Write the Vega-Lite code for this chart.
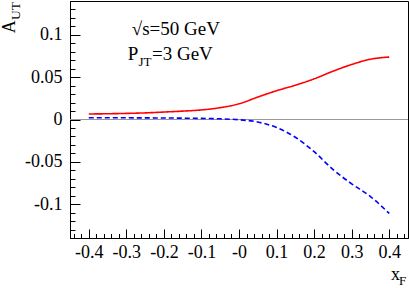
{
  "$schema": "https://vega.github.io/schema/vega-lite/v6.json",
  "width": 338,
  "height": 237,
  "autosize": "none",
  "padding": {"left": 70, "top": 1, "right": 1, "bottom": 50},
  "background": "white",
  "config": {
    "view": {"stroke": "black", "strokeWidth": 1},
    "font": "Liberation Serif",
    "axis": {"labelFont": "Liberation Serif"}
  },
  "datasets": {
    "curves": [
      {"xF": -0.4, "AUT": 0.0065, "series": "solid"},
      {"xF": -0.35, "AUT": 0.0068, "series": "solid"},
      {"xF": -0.3, "AUT": 0.0072, "series": "solid"},
      {"xF": -0.25, "AUT": 0.0078, "series": "solid"},
      {"xF": -0.2, "AUT": 0.0088, "series": "solid"},
      {"xF": -0.15, "AUT": 0.0099, "series": "solid"},
      {"xF": -0.1, "AUT": 0.0113, "series": "solid"},
      {"xF": -0.05, "AUT": 0.014, "series": "solid"},
      {"xF": 0, "AUT": 0.0185, "series": "solid"},
      {"xF": 0.05, "AUT": 0.0265, "series": "solid"},
      {"xF": 0.1, "AUT": 0.034, "series": "solid"},
      {"xF": 0.15, "AUT": 0.0405, "series": "solid"},
      {"xF": 0.2, "AUT": 0.048, "series": "solid"},
      {"xF": 0.25, "AUT": 0.057, "series": "solid"},
      {"xF": 0.3, "AUT": 0.065, "series": "solid"},
      {"xF": 0.35, "AUT": 0.0712, "series": "solid"},
      {"xF": 0.4, "AUT": 0.0738, "series": "solid"},
      {"xF": -0.4, "AUT": 0.002, "series": "dashed"},
      {"xF": -0.35, "AUT": 0.002, "series": "dashed"},
      {"xF": -0.3, "AUT": 0.002, "series": "dashed"},
      {"xF": -0.25, "AUT": 0.0019, "series": "dashed"},
      {"xF": -0.2, "AUT": 0.0018, "series": "dashed"},
      {"xF": -0.15, "AUT": 0.0016, "series": "dashed"},
      {"xF": -0.1, "AUT": 0.0013, "series": "dashed"},
      {"xF": -0.05, "AUT": 0.0008, "series": "dashed"},
      {"xF": 0, "AUT": -0.0003, "series": "dashed"},
      {"xF": 0.05, "AUT": -0.003, "series": "dashed"},
      {"xF": 0.1, "AUT": -0.0095, "series": "dashed"},
      {"xF": 0.15, "AUT": -0.021, "series": "dashed"},
      {"xF": 0.2, "AUT": -0.038, "series": "dashed"},
      {"xF": 0.25, "AUT": -0.059, "series": "dashed"},
      {"xF": 0.3, "AUT": -0.076, "series": "dashed"},
      {"xF": 0.35, "AUT": -0.091, "series": "dashed"},
      {"xF": 0.4, "AUT": -0.111, "series": "dashed"}
    ]
  },
  "encoding": {
    "x": {
      "type": "quantitative",
      "scale": {"domain": [-0.45, 0.45], "nice": false, "zero": false},
      "axis": {
        "title": null,
        "grid": false,
        "orient": "bottom",
        "values": [-0.44, -0.42, -0.4, -0.38, -0.36, -0.34, -0.32, -0.3, -0.28, -0.26, -0.24, -0.22, -0.2, -0.18, -0.16, -0.14, -0.12, -0.1, -0.08, -0.06, -0.04, -0.02, 0, 0.02, 0.04, 0.06, 0.08, 0.1, 0.12, 0.14, 0.16, 0.18, 0.2, 0.22, 0.24, 0.26, 0.28, 0.3, 0.32, 0.34, 0.36, 0.38, 0.4, 0.42, 0.44],
        "tickSize": {"condition": {"test": "round(datum.value*100) % 10 == 0", "value": -9}, "value": -4.5},
        "tickColor": "black",
        "tickWidth": 1,
        "domainColor": "black",
        "domainWidth": 1,
        "labelExpr": "round(datum.value*100) % 10 == 0 ? (datum.value == 0 ? '-0' : '' + datum.value) : ''",
        "labelFont": "Liberation Serif",
        "labelFontSize": 18,
        "labelColor": "black",
        "labelPadding": 14,
        "labelOverlap": false,
        "labelFlush": false,
        "labelBound": false
      }
    },
    "y": {
      "type": "quantitative",
      "scale": {"domain": [-0.14, 0.14], "nice": false, "zero": false},
      "axis": {
        "title": null,
        "grid": false,
        "values": [-0.14, -0.13, -0.12, -0.11, -0.1, -0.09, -0.08, -0.07, -0.06, -0.05, -0.04, -0.03, -0.02, -0.01, 0, 0.01, 0.02, 0.03, 0.04, 0.05, 0.06, 0.07, 0.08, 0.09, 0.1, 0.11, 0.12, 0.13, 0.14],
        "tickSize": {"condition": {"test": "round(datum.value*100) % 5 == 0", "value": -10}, "value": -5},
        "tickColor": "black",
        "tickWidth": 1,
        "domainColor": "black",
        "domainWidth": 1,
        "labelExpr": "round(datum.value*100) % 5 == 0 ? '' + datum.value : ''",
        "labelFont": "Liberation Serif",
        "labelFontSize": 18,
        "labelColor": "black",
        "labelPadding": 18,
        "labelOverlap": false,
        "labelFlush": false,
        "labelBound": false
      }
    }
  },
  "layer": [
    {
      "data": {"values": [{}]},
      "mark": {"type": "rule", "color": "#999999", "strokeWidth": 1},
      "encoding": {"y": {"datum": 0}}
    },
    {
      "data": {"name": "curves"},
      "mark": {"type": "line", "interpolate": "monotone", "strokeWidth": 1.6},
      "encoding": {
        "x": {"field": "xF"},
        "y": {"field": "AUT"},
        "detail": {"field": "series", "type": "nominal"},
        "color": {"field": "series", "type": "nominal", "scale": {"domain": ["solid", "dashed"], "range": ["#ff0000", "#0000ff"]}, "legend": null},
        "strokeDash": {"field": "series", "type": "nominal", "scale": {"domain": ["solid", "dashed"], "range": [[1, 0], [5, 3]]}, "legend": null}
      }
    },
    {
      "data": {"values": [{}]},
      "mark": {"type": "text", "align": "left", "baseline": "alphabetic", "fontSize": 19, "font": "Liberation Serif", "color": "black"},
      "encoding": {"x": {"datum": -0.2857}, "y": {"datum": 0.0998}, "text": {"value": "√s=50 GeV"}}
    },
    {
      "data": {"values": [{}]},
      "mark": {"type": "text", "align": "left", "baseline": "alphabetic", "fontSize": 19, "font": "Liberation Serif", "color": "black"},
      "encoding": {"x": {"datum": -0.2964}, "y": {"datum": 0.0703}, "text": {"value": "P"}}
    },
    {
      "data": {"values": [{}]},
      "mark": {"type": "text", "align": "left", "baseline": "alphabetic", "fontSize": 13, "font": "Liberation Serif", "color": "black"},
      "encoding": {"x": {"datum": -0.2676}, "y": {"datum": 0.0632}, "text": {"value": "JT"}}
    },
    {
      "data": {"values": [{}]},
      "mark": {"type": "text", "align": "left", "baseline": "alphabetic", "fontSize": 19, "font": "Liberation Serif", "color": "black"},
      "encoding": {"x": {"datum": -0.2317}, "y": {"datum": 0.0703}, "text": {"value": "=3 GeV"}}
    },
    {
      "data": {"values": [{}]},
      "mark": {"type": "text", "align": "left", "baseline": "alphabetic", "fontSize": 18, "angle": 270, "font": "Liberation Serif", "color": "black"},
      "encoding": {"x": {"datum": -0.5964}, "y": {"datum": 0.1018}, "text": {"value": "A"}}
    },
    {
      "data": {"values": [{}]},
      "mark": {"type": "text", "align": "left", "baseline": "alphabetic", "fontSize": 13.5, "angle": 270, "font": "Liberation Serif", "color": "black"},
      "encoding": {"x": {"datum": -0.5831}, "y": {"datum": 0.1176}, "text": {"value": "UT"}}
    },
    {
      "data": {"values": [{}]},
      "mark": {"type": "text", "align": "left", "baseline": "alphabetic", "fontSize": 18, "font": "Liberation Serif", "color": "black"},
      "encoding": {"x": {"datum": 0.4047}, "y": {"datum": -0.1895}, "text": {"value": "x"}}
    },
    {
      "data": {"values": [{}]},
      "mark": {"type": "text", "align": "left", "baseline": "alphabetic", "fontSize": 13, "font": "Liberation Serif", "color": "black"},
      "encoding": {"x": {"datum": 0.426}, "y": {"datum": -0.1952}, "text": {"value": "F"}}
    }
  ]
}
